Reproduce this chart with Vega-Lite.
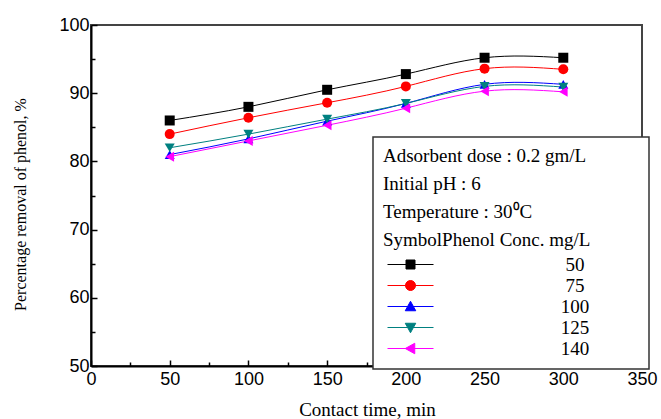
{
  "$schema": "https://vega.github.io/schema/vega-lite/v6.json",
  "width": 551,
  "height": 341,
  "autosize": "none",
  "padding": {"left": 91, "top": 25, "right": 19, "bottom": 53},
  "background": "white",
  "config": {
    "view": {"stroke": "#444", "strokeWidth": 2},
    "axis": {
      "labelFont": "Liberation Sans",
      "labelFontSize": 18,
      "labelColor": "black",
      "titleFont": "Liberation Serif",
      "titleFontWeight": "normal",
      "titleColor": "black",
      "domainColor": "black",
      "domainWidth": 2,
      "tickColor": "black",
      "tickWidth": 1.5,
      "grid": false
    }
  },
  "data": {
    "values": [
      {"time": 50, "removal": 86.0, "conc": "50"},
      {"time": 100, "removal": 88.0, "conc": "50"},
      {"time": 150, "removal": 90.5, "conc": "50"},
      {"time": 200, "removal": 92.8, "conc": "50"},
      {"time": 250, "removal": 95.2, "conc": "50"},
      {"time": 300, "removal": 95.2, "conc": "50"},
      {"time": 50, "removal": 84.0, "conc": "75"},
      {"time": 100, "removal": 86.4, "conc": "75"},
      {"time": 150, "removal": 88.6, "conc": "75"},
      {"time": 200, "removal": 91.0, "conc": "75"},
      {"time": 250, "removal": 93.6, "conc": "75"},
      {"time": 300, "removal": 93.5, "conc": "75"},
      {"time": 50, "removal": 81.0, "conc": "100"},
      {"time": 100, "removal": 83.3, "conc": "100"},
      {"time": 150, "removal": 85.9, "conc": "100"},
      {"time": 200, "removal": 88.5, "conc": "100"},
      {"time": 250, "removal": 91.3, "conc": "100"},
      {"time": 300, "removal": 91.3, "conc": "100"},
      {"time": 50, "removal": 82.0, "conc": "125"},
      {"time": 100, "removal": 84.0, "conc": "125"},
      {"time": 150, "removal": 86.2, "conc": "125"},
      {"time": 200, "removal": 88.5, "conc": "125"},
      {"time": 250, "removal": 91.0, "conc": "125"},
      {"time": 300, "removal": 90.9, "conc": "125"},
      {"time": 50, "removal": 80.7, "conc": "140"},
      {"time": 100, "removal": 83.0, "conc": "140"},
      {"time": 150, "removal": 85.3, "conc": "140"},
      {"time": 200, "removal": 87.8, "conc": "140"},
      {"time": 250, "removal": 90.3, "conc": "140"},
      {"time": 300, "removal": 90.2, "conc": "140"}
    ]
  },
  "encoding": {
    "x": {
      "field": "time",
      "type": "quantitative",
      "scale": {"domain": [0, 350], "nice": false, "zero": false},
      "axis": {
        "title": "Contact time, min",
        "titleFontSize": 19,
        "titleX": 276,
        "titleY": 49,
        "titleAnchor": null,
        "titleAlign": "center",
        "titleBaseline": "alphabetic",
        "values": [0, 25, 50, 75, 100, 125, 150, 175, 200, 225, 250, 275, 300, 325, 350],
        "labelExpr": "datum.value % 50 == 0 ? datum.label : ''",
        "tickSize": {"condition": {"test": "datum.value % 50 == 0", "value": -6}, "value": -4},
        "labelPadding": 10,
        "labelFlush": false,
        "labelOverlap": false
      }
    },
    "y": {
      "field": "removal",
      "type": "quantitative",
      "scale": {"domain": [50, 100], "nice": false, "zero": false},
      "axis": {
        "title": "Percentage removal of phenol, %",
        "titleFontSize": 16,
        "titleX": -71,
        "titleY": 179,
        "titleAngle": -90,
        "titleAlign": "center",
        "titleBaseline": "middle",
        "values": [50, 55, 60, 65, 70, 75, 80, 85, 90, 95, 100],
        "labelExpr": "datum.value % 10 == 0 ? datum.label : ''",
        "tickSize": {"condition": {"test": "datum.value % 10 == 0", "value": -6}, "value": -4},
        "labelPadding": 8,
        "labelFlush": false,
        "labelOverlap": false
      }
    },
    "color": {
      "field": "conc",
      "type": "nominal",
      "scale": {
        "domain": ["50", "75", "100", "125", "140"],
        "range": ["#000000", "#ff0000", "#0000ff", "#008080", "#ff00ff"]
      },
      "legend": {
        "orient": "none",
        "legendX": 282,
        "legendY": 112,
        "title": ["Adsorbent dose : 0.2 gm/L\u00a0\u00a0\u00a0\u00a0\u00a0\u00a0\u00a0\u00a0\u00a0\u00a0\u00a0\u200b", "Initial pH : 6", "Temperature : 30\u2070C", "SymbolPhenol Conc. mg/L"],
        "titleFont": "Liberation Serif",
        "titleFontSize": 19,
        "titleFontWeight": "normal",
        "titleColor": "black",
        "titleLineHeight": 28,
        "titlePadding": 5,
        "titleLimit": 400,
        "labelFont": "Liberation Serif",
        "labelFontSize": 19,
        "labelColor": "black",
        "labelAlign": "center",
        "labelOffset": 155,
        "symbolSize": 100,
        "symbolOffset": 18,
        "symbolStrokeWidth": 1,
        "rowPadding": 1,
        "padding": 10,
        "strokeColor": "#333",
        "fillColor": "white",
        "encode": {
          "legend": {"update": {"strokeWidth": {"value": 1.5}}},
          "symbols": {
            "update": {
              "shape": {"signal": "datum.value == '50' ? 'M-4.6,0H4.6M-0.9,-0.9H0.9V0.9H-0.9Z' : datum.value == '75' ? 'M-4.6,0H4.6M-1,0A1,1,0,1,1,1,0A1,1,0,1,1,-1,0Z' : datum.value == '100' ? 'M-4.6,0H4.6M0,-1.05L1.05,0.85L-1.05,0.85Z' : datum.value == '125' ? 'M-4.6,0H4.6M0,1.05L1.05,-0.85L-1.05,-0.85Z' : 'M-4.6,0H4.6M-1.05,0L0.85,-1.05L0.85,1.05Z'"},
              "fill": {"signal": "scale('color', datum.value)"},
              "stroke": {"signal": "scale('color', datum.value)"},
              "strokeWidth": {"value": 1},
              "opacity": {"value": 1}
            }
          }
        }
      }
    }
  },
  "layer": [
    {
      "mark": {"type": "line", "interpolate": "natural", "strokeWidth": 1}
    },
    {
      "transform": [{"filter": "datum.conc == '50'"}],
      "mark": {"type": "point", "shape": "square", "filled": true, "opacity": 1, "size": 100}
    },
    {
      "transform": [{"filter": "datum.conc == '75'"}],
      "mark": {"type": "point", "shape": "circle", "filled": true, "opacity": 1, "size": 100}
    },
    {
      "transform": [{"filter": "datum.conc == '100'"}],
      "mark": {"type": "point", "shape": "triangle-up", "filled": true, "opacity": 1, "size": 100}
    },
    {
      "transform": [{"filter": "datum.conc == '125'"}],
      "mark": {"type": "point", "shape": "triangle-down", "filled": true, "opacity": 1, "size": 100}
    },
    {
      "transform": [{"filter": "datum.conc == '140'"}],
      "mark": {"type": "point", "shape": "triangle-left", "filled": true, "opacity": 1, "size": 100}
    }
  ]
}
